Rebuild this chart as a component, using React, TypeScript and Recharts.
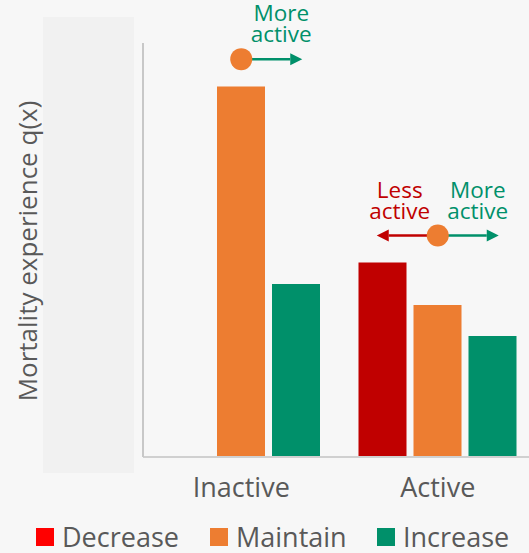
import React from 'react'
import { BarChart, Bar, XAxis, YAxis, Legend, ReferenceDot } from 'recharts'

const categories = ['Inactive', 'Active']
const decrease = [null, 47]
const maintain = [89.5, 36.7]
const increase = [41.8, 29.2]

const seriesNames = ['Decrease', 'Maintain', 'Increase']
const barColors = ['#c00000', '#ed7d31', '#00906a']
const legendColors = ['#ff0000', '#ed7d31', '#00906a']
const legendItemWidths = [174, 167, 150]

// where the "current level" marker sits for each group, and which arrows it gets
const markerCategory = ['Inactive', 'Active']
const markerLevel = [96.1, 53.5]
const markerLess = [false, true]
const markerMore = [true, true]

const RED = '#c00000'
const GREEN = '#00906a'
const ORANGE = '#ed7d31'
const TEXT = '#595959'
const FONT = '"Open Sans", "DejaVu Sans", sans-serif'

const data = categories.map((name, i) => ({
  name,
  Decrease: decrease[i],
  Maintain: maintain[i],
  Increase: increase[i],
}))

function Arrow({ x1, x2, y, color }: { x1: number; x2: number; y: number; color: string }) {
  const dir = x2 > x1 ? 1 : -1
  const head = 12
  return (
    <g>
      <line x1={x1} y1={y} x2={x2 - dir * head} y2={y} stroke={color} strokeWidth={2.5} />
      <polygon points={`${x2},${y} ${x2 - dir * head},${y - 6} ${x2 - dir * head},${y + 6}`} fill={color} />
    </g>
  )
}

function Marker(less: boolean, more: boolean) {
  return (props: any) => {
    const { cx, cy } = props
    const reach = 61
    return (
      <g fontFamily={FONT} fontSize={22.5} textAnchor="middle">
        {less && (
          <g>
            <Arrow x1={cx} x2={cx - reach} y={cy} color={RED} />
            <text x={cx - 38} y={cy - 38} fill={RED}>Less</text>
            <text x={cx - 38} y={cy - 17} fill={RED}>active</text>
          </g>
        )}
        {more && (
          <g>
            <Arrow x1={cx} x2={cx + reach} y={cy} color={GREEN} />
            <text x={cx + 40} y={cy - 38} fill={GREEN}>More</text>
            <text x={cx + 40} y={cy - 17} fill={GREEN}>active</text>
          </g>
        )}
        <circle cx={cx} cy={cy} r={11} fill={ORANGE} />
      </g>
    )
  }
}

function LegendContent() {
  return (
    <div style={{ height: 30, display: 'flex', alignItems: 'center', paddingLeft: 36, fontFamily: FONT, fontSize: 27, color: TEXT }}>
      {seriesNames.map((s, i) => (
        <div key={s} style={{ display: 'flex', alignItems: 'center', width: legendItemWidths[i] }}>
          <span style={{ width: 18, height: 18, background: legendColors[i], marginRight: 8, display: 'inline-block' }} />
          <span style={{ lineHeight: '30px' }}>{s}</span>
        </div>
      ))}
    </div>
  )
}

export default function App() {
  return (
    <div style={{ position: 'absolute', left: 0, top: 0, width: 529, height: 553, overflow: 'hidden', background: '#f7f7f7' }}>
      <div style={{ position: 'absolute', left: 43, top: 17, width: 91, height: 456, background: '#f1f1f1' }} />
      <div style={{ position: 'absolute', left: 0, top: 0 }}>
        <BarChart
          width={536}
          height={553}
          data={data}
          margin={{ top: 43, right: 0, left: 0, bottom: 1 }}
          barCategoryGap={19}
          barGap={7}
        >
          <XAxis
            dataKey="name"
            axisLine={{ stroke: '#d0d0d0', strokeWidth: 2 }}
            tickLine={false}
            tickMargin={15}
            height={65}
            tick={{ fill: TEXT, fontSize: 27, fontFamily: FONT }}
          />
          <YAxis
            width={143}
            domain={[0, 100]}
            tick={false}
            tickLine={false}
            axisLine={{ stroke: '#c8c8c8', strokeWidth: 2 }}
            label={{
              content: (p: any) => {
                const vb = p.viewBox
                const x = 27
                const y = vb.y + vb.height / 2 + 1
                return (
                  <text x={x} y={y} transform={`rotate(-90 ${x} ${y})`} textAnchor="middle" dominantBaseline="central" fill={TEXT} fontSize={26} fontFamily={FONT}>
                    Mortality experience q(x)
                  </text>
                )
              },
            }}
          />
          <Legend verticalAlign="bottom" align="left" content={<LegendContent />} />
          {seriesNames.map((s, i) => (
            <Bar key={s} dataKey={s} fill={barColors[i]} isAnimationActive={false} />
          ))}
          {markerCategory.map((c, i) => (
            <ReferenceDot
              key={c}
              x={c}
              y={markerLevel[i]}
              ifOverflow="visible"
              shape={Marker(markerLess[i], markerMore[i])}
            />
          ))}
        </BarChart>
      </div>
    </div>
  )
}
